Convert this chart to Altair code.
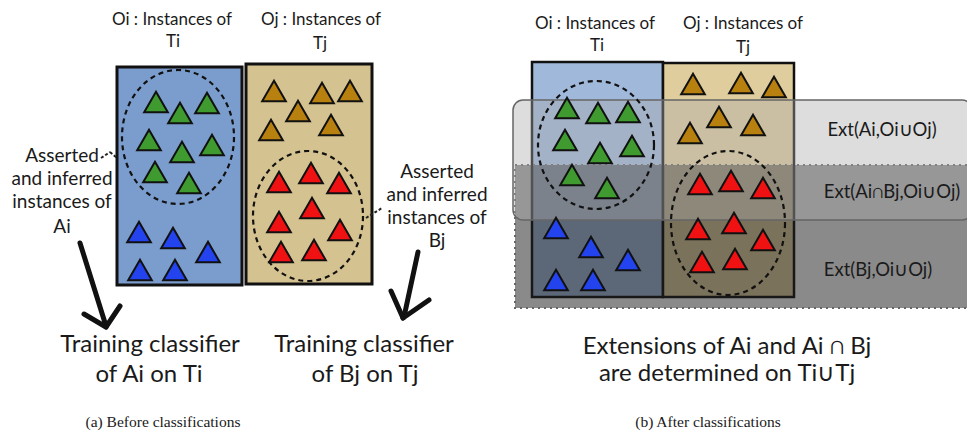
import altair as alt
import pandas as pd

# ---------------- data ----------------
# triangle instances, panel (a)
green_a_x = [156, 180, 207, 149, 182, 212, 155, 189]
green_a_y = [102, 113, 103, 140, 152, 145, 172, 183]
blue_a_x = [139, 173, 208, 140, 175]
blue_a_y = [232, 238, 252, 270, 270]
brown_a_x = [274, 322, 350, 298, 271, 331]
brown_a_y = [91, 93, 91, 111, 130, 125]
red_a_x = [279, 311, 339, 312, 279, 340, 281, 314]
red_a_y = [182, 173, 183, 208, 222, 230, 252, 250]

# triangle instances, panel (b)
green_b_x = [567, 598, 628, 565, 600, 632, 572, 607]
green_b_y = [108, 113, 112, 140, 153, 146, 175, 188]
blue_b_x = [556, 591, 628, 556, 593]
blue_b_y = [228, 247, 260, 280, 280]
brown_b_x = [693, 741, 774, 690, 719, 753]
brown_b_y = [84, 83, 87, 133, 117, 125]
red_b_x = [700, 731, 763, 698, 734, 763, 702, 735]
red_b_y = [184, 181, 188, 229, 223, 240, 262, 259]

# ontology boxes  (x, x2, y, y2)
boxes_a = [(117, 242, 67, 285, "#7b9dcd"), (246, 372, 64, 284, "#d5c291")]
boxes_b = [(532, 663, 62, 297, "#a0b8da"), (663, 794, 63, 297, "#dfcd9e")]

# extension bands in panel (b)
band_light = (513, 972, 100, 220)
band_dark = (515, 990, 165, 308)

# dashed ellipses (cx, cy, rx, ry)
ellipses = [(178, 137, 56, 67), (308, 216, 55, 65),
            (596, 145, 58, 64), (728, 223, 57, 72)]

# arrows and connectors (x, y, x2, y2)
arrow_shafts = [(80, 243, 106, 326), (418, 252, 404, 317)]
arrow_heads = [(84, 314, 106, 327), (120, 306, 106, 327),
               (391, 291, 403, 318), (429, 300, 403, 318)]
connectors = [(101, 158, 110, 152), (110, 152, 117, 158),
              (366, 218, 382, 208)]

title_text = ["Oi : Instances of", "Ti", "Oj : Instances of", "Tj",
              "Oi : Instances of", "Ti", "Oj : Instances of", "Tj"]
title_x = [172, 173, 321, 320, 595, 597, 743, 743]
title_y = [20, 42, 20, 44, 24, 46, 24, 48]

note_text = ["Asserted", "and inferred", "instances of", "Ai",
             "Asserted", "and inferred", "instances of", "Bj"]
note_x = [62, 62, 62, 62, 437, 437, 437, 437]
note_y = [156, 179, 202, 227, 172, 195, 218, 241]

big_text = ["Training classifier", "of Ai on Ti",
            "Training classifier", "of Bj on Tj",
            "Extensions of Ai and Ai \u2229 Bj", "are determined on Ti\u222aTj"]
big_x = [150, 149, 364, 365, 727, 727]
big_y = [345, 375, 345, 375, 347, 374]

ext_text = ["Ext(Ai,Oi\u222aOj)", "Ext(Ai\u2229Bj,Oi\u222aOj)", "Ext(Bj,Oi\u222aOj)"]
ext_x = [882, 892, 878]
ext_y = [130, 192, 270]

cap_text = ["(a) Before classifications", "(b) After classifications"]
cap_x = [163, 708]
cap_y = [422, 422]

# ---------------- chart ----------------
W, H, OFF = 959, 427, 8
xs = alt.Scale(domain=[OFF, OFF + W], nice=False, zero=False)
ys = alt.Scale(domain=[OFF, OFF + H], nice=False, zero=False, reverse=True)
X = alt.X("x:Q", scale=xs, axis=None)
Y = alt.Y("y:Q", scale=ys, axis=None)
X2 = alt.X2("x2:Q")
Y2 = alt.Y2("y2:Q")


def rect_df(rows):
    return pd.DataFrame([dict(x=r[0], x2=r[1], y=r[2], y2=r[3], fill=r[4]) for r in rows])


layers = []

# panel (a) boxes
layers.append(alt.Chart(rect_df(boxes_a)).mark_rect(stroke="#111", strokeWidth=3).encode(
    x=X, x2=X2, y=Y, y2=Y2, fill=alt.Fill("fill:N", scale=None)))
# panel (b) boxes
layers.append(alt.Chart(rect_df(boxes_b)).mark_rect(stroke="#111", strokeWidth=2.5).encode(
    x=X, x2=X2, y=Y, y2=Y2, fill=alt.Fill("fill:N", scale=None)))
# dark band
layers.append(alt.Chart(pd.DataFrame([dict(x=band_dark[0], x2=band_dark[1], y=band_dark[2], y2=band_dark[3])]))
              .mark_rect(fill="#1e1e1e", fillOpacity=0.52, stroke="#666", strokeWidth=2,
                         strokeDash=[2, 4]).encode(x=X, x2=X2, y=Y, y2=Y2))
# light band
layers.append(alt.Chart(pd.DataFrame([dict(x=band_light[0], x2=band_light[1], y=band_light[2], y2=band_light[3])]))
              .mark_rect(fill="#aaaaaa", fillOpacity=0.4, stroke="#666", strokeWidth=1.5,
                         cornerRadius=10).encode(x=X, x2=X2, y=Y, y2=Y2))


def ellipse_path(a):
    k = 0.5523
    return (f"M {a} 0 C {a} {k} {a*k} 1 0 1 C {-a*k} 1 {-a} {k} {-a} 0 "
            f"C {-a} {-k} {-a*k} -1 0 -1 C {a*k} -1 {a} {-k} {a} 0 Z")


for cx, cy, rx, ry in ellipses:
    layers.append(alt.Chart(pd.DataFrame([dict(x=cx, y=cy)])).mark_point(
        shape=ellipse_path(round(rx / ry, 4)), size=(2 * ry) ** 2, filled=False,
        color="#111", strokeWidth=2.2, strokeDash=[5, 4], opacity=1).encode(x=X, y=Y))

# triangles
tri_rows = []
for name, xs_, ys_ in [("green", green_a_x, green_a_y), ("blue", blue_a_x, blue_a_y),
                       ("brown", brown_a_x, brown_a_y), ("red", red_a_x, red_a_y),
                       ("green", green_b_x, green_b_y), ("blue", blue_b_x, blue_b_y),
                       ("brown", brown_b_x, brown_b_y), ("red", red_b_x, red_b_y)]:
    for a, b in zip(xs_, ys_):
        tri_rows.append(dict(x=a, y=b, kind=name))
tri = pd.DataFrame(tri_rows)
layers.append(alt.Chart(tri).mark_point(shape="triangle-up", filled=True, size=560,
                                         stroke="#111", strokeWidth=2, opacity=1).encode(
    x=X, y=Y,
    color=alt.Color("kind:N", legend=None,
                    scale=alt.Scale(domain=["green", "blue", "brown", "red"],
                                    range=["#3f9b2f", "#2243ee", "#b8800f", "#f01212"]))))


def seg_df(rows):
    return pd.DataFrame([dict(x=r[0], y=r[1], x2=r[2], y2=r[3]) for r in rows])


layers.append(alt.Chart(seg_df(arrow_shafts)).mark_rule(color="#111", strokeWidth=5, strokeCap="round")
              .encode(x=X, y=Y, x2=X2, y2=Y2))
layers.append(alt.Chart(seg_df(arrow_heads)).mark_rule(color="#111", strokeWidth=5, strokeCap="round")
              .encode(x=X, y=Y, x2=X2, y2=Y2))
layers.append(alt.Chart(seg_df(connectors)).mark_rule(color="#222", strokeWidth=2, strokeDash=[3, 2])
              .encode(x=X, y=Y, x2=X2, y2=Y2))


def text_layer(texts, xv, yv, size, font, color="#1a1a1a"):
    df = pd.DataFrame(dict(text=texts, x=xv, y=yv))
    return alt.Chart(df).mark_text(font=font, fontSize=size, color=color, align="center",
                                   baseline="middle").encode(x=X, y=Y, text="text:N")


layers.append(text_layer(title_text, title_x, title_y, 17, "Lato"))
layers.append(text_layer(note_text, note_x, note_y, 19, "Lato"))
layers.append(text_layer(big_text[:4], big_x[:4], big_y[:4], 24, "Lato"))
layers.append(text_layer(big_text[4:], big_x[4:], big_y[4:], 24, "Lato"))
layers.append(text_layer(ext_text, ext_x, ext_y, 18.5, "Lato"))
layers.append(text_layer(cap_text, cap_x, cap_y, 15.5, "Liberation Serif"))

chart = alt.layer(*layers).properties(
    width=W, height=H, padding=0, autosize=alt.AutoSizeParams(type="none")
).configure_view(stroke=None)

chart.save("out.html", embed_options={"renderer": "svg", "actions": False})
